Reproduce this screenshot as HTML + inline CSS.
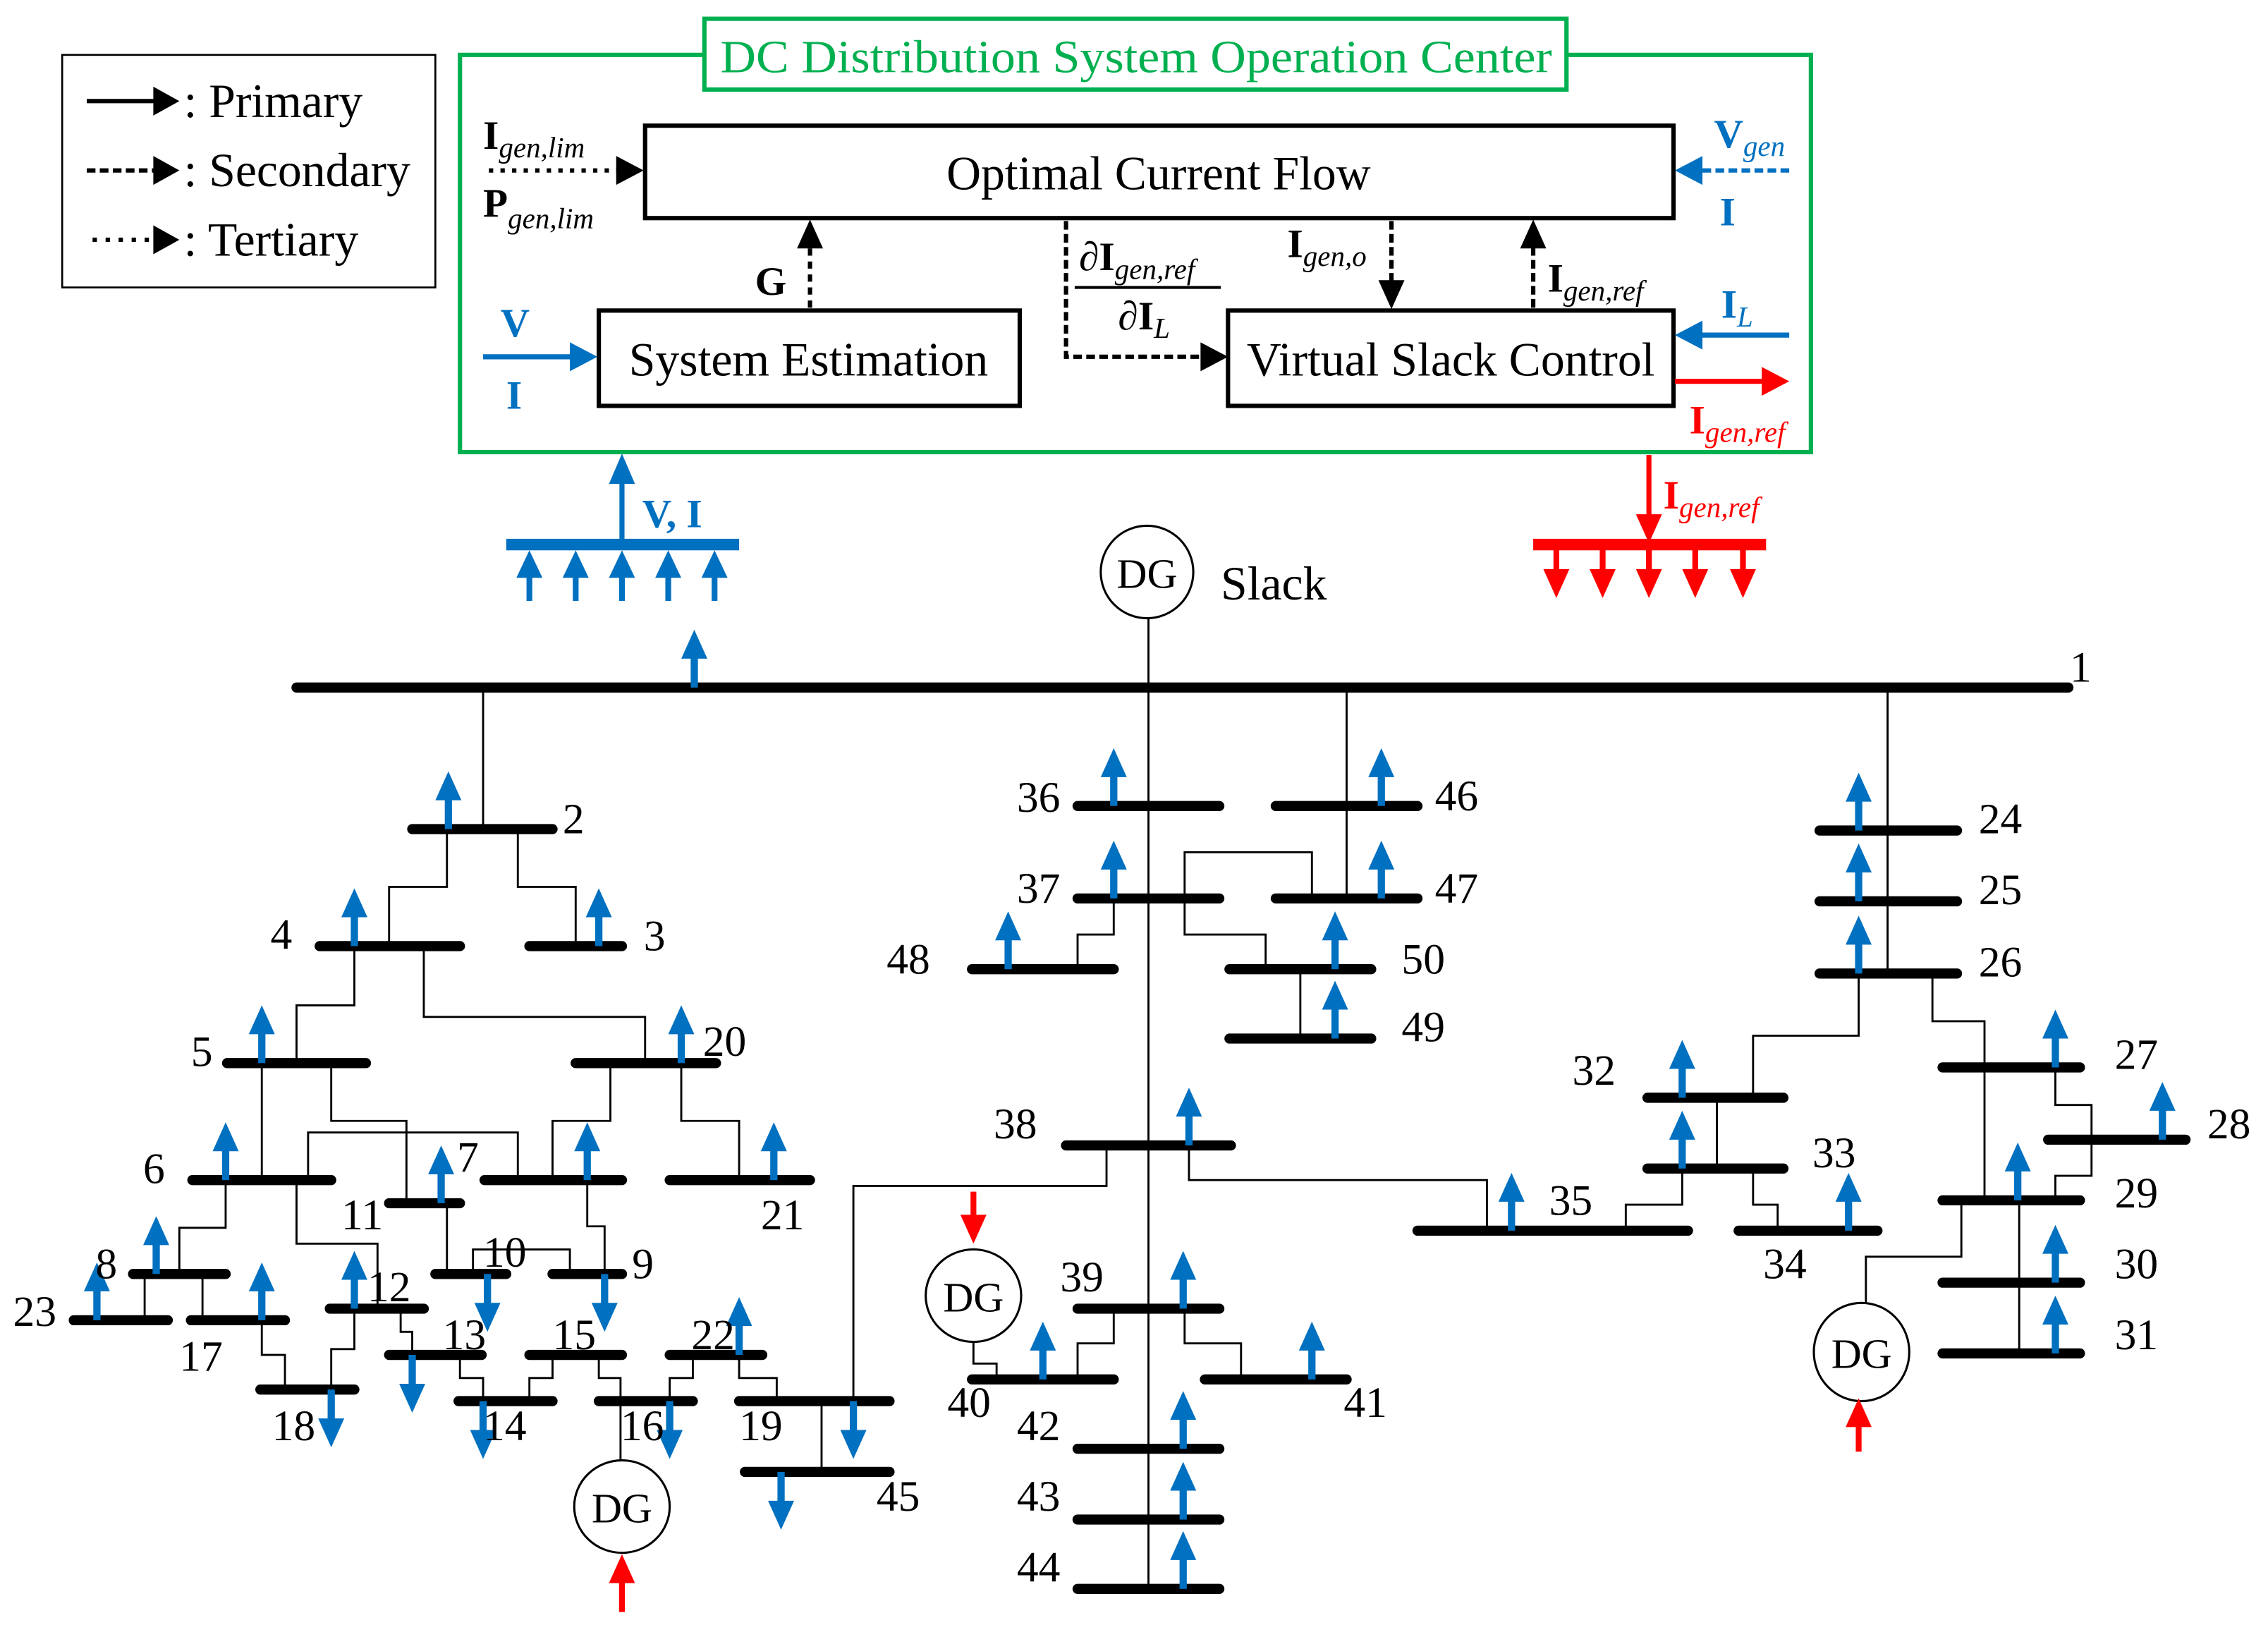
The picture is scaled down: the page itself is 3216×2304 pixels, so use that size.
<!DOCTYPE html>
<html><head><meta charset="utf-8"><style>
html,body{margin:0;padding:0;background:#fff}
svg{display:block}
text{font-family:"Liberation Serif",serif}
</style></head><body>
<svg width="3216" height="2304" viewBox="0 0 1568 1125" preserveAspectRatio="none" xmlns="http://www.w3.org/2000/svg">
<defs>
<g id="ua"><rect x="-2.5" y="-22" width="5" height="22" fill="#0070c0"/><polygon points="-9,-20 9,-20 0,-40" fill="#0070c0"/></g>
<g id="da"><rect x="-2.5" y="0" width="5" height="22" fill="#0070c0"/><polygon points="-9,20 9,20 0,40" fill="#0070c0"/></g>
</defs>
<rect width="1568" height="1125" fill="#fff"/>

<!-- Legend -->
<rect x="43" y="38" width="258" height="161" fill="none" stroke="#000" stroke-width="1.3"/>
<line x1="60" y1="70" x2="108" y2="70" stroke="#000" stroke-width="3"/>
<polygon points="106,60 124,70 106,80"/>
<line x1="60" y1="118" x2="108" y2="118" stroke="#000" stroke-width="3" stroke-dasharray="6,3"/>
<polygon points="106,108 124,118 106,128"/>
<line x1="64" y1="166" x2="108" y2="166" stroke="#000" stroke-width="3" stroke-dasharray="3,6"/>
<polygon points="106,156 124,166 106,176"/>
<text x="127" y="81" font-size="33">: Primary</text>
<text x="127" y="129" font-size="33">: Secondary</text>
<text x="127" y="177" font-size="33">: Tertiary</text>

<!-- Operation center -->
<rect x="318" y="38" width="934" height="275" fill="none" stroke="#00b050" stroke-width="3"/>
<rect x="487" y="13" width="596" height="49" fill="#fff" stroke="#00b050" stroke-width="3"/>
<text x="498" y="50" font-size="32" fill="#00b050" textLength="575" lengthAdjust="spacingAndGlyphs">DC Distribution System Operation Center</text>

<rect x="446" y="87" width="711" height="64" fill="#fff" stroke="#000" stroke-width="3"/>
<text x="801" y="131" font-size="33" text-anchor="middle">Optimal Current Flow</text>
<rect x="414" y="215" width="291" height="66" fill="#fff" stroke="#000" stroke-width="3"/>
<text x="559" y="260" font-size="33" text-anchor="middle">System Estimation</text>
<rect x="849" y="215" width="308" height="66" fill="#fff" stroke="#000" stroke-width="3"/>
<text x="1003" y="260" font-size="33" text-anchor="middle">Virtual Slack Control</text>

<!-- Igen,lim / Pgen,lim -->
<text x="334" y="103" font-size="28" font-weight="bold">I<tspan font-size="20" font-weight="normal" font-style="italic" dy="6">gen,lim</tspan></text>
<line x1="338" y1="118" x2="428" y2="118" stroke="#000" stroke-width="3" stroke-dasharray="3,5"/>
<polygon points="426,108 445,118 426,128"/>
<text x="334" y="150" font-size="28" font-weight="bold">P<tspan font-size="20" font-weight="normal" font-style="italic" dy="8">gen,lim</tspan></text>

<!-- Vgen / I right -->
<text x="1185" y="102" font-size="28" font-weight="bold" fill="#0070c0">V<tspan font-size="20" font-weight="normal" font-style="italic" dy="6">gen</tspan></text>
<line x1="1237" y1="118" x2="1175" y2="118" stroke="#0070c0" stroke-width="3" stroke-dasharray="6,3"/>
<polygon points="1177,108 1158,118 1177,128" fill="#0070c0"/>
<text x="1189" y="156" font-size="28" font-weight="bold" fill="#0070c0">I</text>

<!-- G -->
<line x1="560" y1="213" x2="560" y2="170" stroke="#000" stroke-width="3" stroke-dasharray="5,4"/>
<polygon points="551,172 560,152 569,172"/>
<text x="522" y="204" font-size="28" font-weight="bold">G</text>

<!-- dI/dIL -->
<polyline points="737,153 737,247 832,247" fill="none" stroke="#000" stroke-width="3" stroke-dasharray="6,3"/>
<polygon points="830,237 849,247 830,257"/>
<text x="746" y="187" font-size="28" font-weight="bold"><tspan font-weight="normal" font-style="italic">∂</tspan>I<tspan font-size="20" font-weight="normal" font-style="italic" dy="6">gen,ref</tspan></text>
<line x1="743" y1="199" x2="844" y2="199" stroke="#000" stroke-width="2"/>
<text x="773" y="228" font-size="28" font-weight="bold"><tspan font-weight="normal" font-style="italic">∂</tspan>I<tspan font-size="20" font-weight="normal" font-style="italic" dy="6">L</tspan></text>

<!-- Igen,o -->
<line x1="962" y1="153" x2="962" y2="196" stroke="#000" stroke-width="3" stroke-dasharray="6,3"/>
<polygon points="953,194 962,214 971,194"/>
<text x="890" y="178" font-size="28" font-weight="bold">I<tspan font-size="20" font-weight="normal" font-style="italic" dy="6">gen,o</tspan></text>

<!-- Igen,ref up -->
<line x1="1060" y1="213" x2="1060" y2="170" stroke="#000" stroke-width="3" stroke-dasharray="6,3"/>
<polygon points="1051,172 1060,152 1069,172"/>
<text x="1070" y="202" font-size="28" font-weight="bold">I<tspan font-size="20" font-weight="normal" font-style="italic" dy="6">gen,ref</tspan></text>

<!-- IL -->
<text x="1190" y="220" font-size="28" font-weight="bold" fill="#0070c0">I<tspan font-size="20" font-weight="normal" font-style="italic" dy="6">L</tspan></text>
<line x1="1237" y1="232" x2="1175" y2="232" stroke="#0070c0" stroke-width="3.5"/>
<polygon points="1177,222 1158,232 1177,242" fill="#0070c0"/>
<!-- red out -->
<line x1="1158" y1="264" x2="1220" y2="264" stroke="#ff0000" stroke-width="3.5"/>
<polygon points="1218,254 1237,264 1218,274" fill="#ff0000"/>
<text x="1168" y="300" font-size="28" font-weight="bold" fill="#ff0000">I<tspan font-size="20" font-weight="normal" font-style="italic" dy="6">gen,ref</tspan></text>

<!-- V I left -->
<text x="346" y="233" font-size="28" font-weight="bold" fill="#0070c0">V</text>
<line x1="334" y1="247" x2="396" y2="247" stroke="#0070c0" stroke-width="3.5"/>
<polygon points="394,237 413,247 394,257" fill="#0070c0"/>
<text x="350" y="283" font-size="28" font-weight="bold" fill="#0070c0">I</text>

<!-- Blue collection -->
<line x1="430" y1="377" x2="430" y2="332" stroke="#0070c0" stroke-width="3.5"/>
<polygon points="421,335 430,314 439,335" fill="#0070c0"/>
<text x="444" y="365" font-size="28" font-weight="bold" fill="#0070c0">V, I</text>
<rect x="350" y="373" width="161" height="8" fill="#0070c0"/>
<g fill="#0070c0">
<rect x="364" y="398" width="4" height="18"/><polygon points="357,400 375,400 366,381"/>
<rect x="396" y="398" width="4" height="18"/><polygon points="389,400 407,400 398,381"/>
<rect x="428" y="398" width="4" height="18"/><polygon points="421,400 439,400 430,381"/>
<rect x="460" y="398" width="4" height="18"/><polygon points="453,400 471,400 462,381"/>
<rect x="492" y="398" width="4" height="18"/><polygon points="485,400 503,400 494,381"/>
</g>

<!-- Red distribution -->
<line x1="1140" y1="315" x2="1140" y2="358" stroke="#ff0000" stroke-width="3.5"/>
<polygon points="1131,356 1140,376 1149,356" fill="#ff0000"/>
<text x="1150" y="352" font-size="28" font-weight="bold" fill="#ff0000">I<tspan font-size="20" font-weight="normal" font-style="italic" dy="6">gen,ref</tspan></text>
<rect x="1060" y="373" width="161" height="8" fill="#ff0000"/>
<g fill="#ff0000">
<rect x="1074" y="380" width="4" height="16"/><polygon points="1067,394 1085,394 1076,414"/>
<rect x="1106" y="380" width="4" height="16"/><polygon points="1099,394 1117,394 1108,414"/>
<rect x="1138" y="380" width="4" height="16"/><polygon points="1131,394 1149,394 1140,414"/>
<rect x="1170" y="380" width="4" height="16"/><polygon points="1163,394 1181,394 1172,414"/>
<rect x="1203" y="380" width="4" height="16"/><polygon points="1196,394 1214,394 1205,414"/>
</g>

<!-- Thin connecting lines -->
<g fill="none" stroke="#000" stroke-width="1.4">
<line x1="794" y1="428" x2="794" y2="1100"/>
<line x1="334" y1="476" x2="334" y2="574"/>
<line x1="931" y1="476" x2="931" y2="622"/>
<line x1="1305" y1="476" x2="1305" y2="674"/>
<polyline points="309,574 309,614 269,614 269,655"/>
<polyline points="358,574 358,614 398,614 398,655"/>
<polyline points="245,655 245,696 205,696 205,736"/>
<polyline points="293,655 293,704 446,704 446,736"/>
<polyline points="181,736 181,817"/>
<polyline points="229,736 229,776 281,776 281,833"/>
<polyline points="213,817 213,784 358,784 358,817"/>
<polyline points="422,736 422,776 382,776 382,817"/>
<polyline points="471,736 471,776 511,776 511,817"/>
<polyline points="156,817 156,850 124,850 124,882"/>
<polyline points="205,817 205,861 261,861 261,906"/>
<polyline points="309,833 309,882"/>
<polyline points="406,817 406,849 418,849 418,882"/>
<polyline points="327,882 327,865 394,865 394,882"/>
<polyline points="100,882 100,914"/>
<polyline points="140,882 140,914"/>
<polyline points="181,914 181,938 197,938 197,962"/>
<polyline points="245,906 245,934 229,934 229,962"/>
<polyline points="277,906 277,922 285,922 285,938"/>
<polyline points="318,938 318,954 334,954 334,970"/>
<polyline points="382,938 382,954 366,954 366,970"/>
<polyline points="414,938 414,954 429,954 429,970"/>
<polyline points="479,938 479,954 463,954 463,970"/>
<polyline points="511,938 511,954 537,954 537,970"/>
<polyline points="568,970 568,1019"/>
<polyline points="429,970 429,1011"/>
<polyline points="590,970 590,821 765,821 765,793"/>
<polyline points="822,793 822,817 1028,817 1028,852"/>
<polyline points="819,622 819,590 907,590 907,622"/>
<polyline points="770,622 770,647 745,647 745,671"/>
<polyline points="819,622 819,647 875,647 875,671"/>
<polyline points="899,671 899,719"/>
<polyline points="673,929 673,944 689,944 689,955"/>
<polyline points="770,906 770,930 745,930 745,955"/>
<polyline points="819,906 819,930 858,930 858,955"/>
<polyline points="1285,674 1285,717 1212,717 1212,760"/>
<polyline points="1187,760 1187,809"/>
<polyline points="1163,809 1163,834 1124,834 1124,852"/>
<polyline points="1212,809 1212,834 1229,834 1229,852"/>
<polyline points="1336,674 1336,707 1372,707 1372,831"/>
<polyline points="1421,739 1421,765 1446,765 1446,814 1421,814 1421,831"/>
<polyline points="1396,831 1396,937"/>
<polyline points="1356,831 1356,870 1290,870 1290,903"/>
</g>

<!-- Buses -->
<g stroke="#000" stroke-width="7" stroke-linecap="round">
<line x1="205" y1="476" x2="1430" y2="476"/>
<line x1="285" y1="574" x2="382" y2="574"/>
<line x1="221" y1="655" x2="318" y2="655"/>
<line x1="366" y1="655" x2="430" y2="655"/>
<line x1="157" y1="736" x2="253" y2="736"/>
<line x1="398" y1="736" x2="495" y2="736"/>
<line x1="133" y1="817" x2="229" y2="817"/>
<line x1="335" y1="817" x2="430" y2="817"/>
<line x1="463" y1="817" x2="560" y2="817"/>
<line x1="269" y1="833" x2="318" y2="833"/>
<line x1="92" y1="882" x2="156" y2="882"/>
<line x1="301" y1="882" x2="350" y2="882"/>
<line x1="382" y1="882" x2="430" y2="882"/>
<line x1="51" y1="914" x2="116" y2="914"/>
<line x1="132" y1="914" x2="197" y2="914"/>
<line x1="228" y1="906" x2="293" y2="906"/>
<line x1="269" y1="938" x2="333" y2="938"/>
<line x1="366" y1="938" x2="430" y2="938"/>
<line x1="463" y1="938" x2="527" y2="938"/>
<line x1="180" y1="962" x2="245" y2="962"/>
<line x1="317" y1="970" x2="382" y2="970"/>
<line x1="414" y1="970" x2="479" y2="970"/>
<line x1="511" y1="970" x2="615" y2="970"/>
<line x1="515" y1="1019" x2="615" y2="1019"/>
<line x1="745" y1="558" x2="843" y2="558"/>
<line x1="882" y1="558" x2="980" y2="558"/>
<line x1="745" y1="622" x2="843" y2="622"/>
<line x1="882" y1="622" x2="980" y2="622"/>
<line x1="672" y1="671" x2="770" y2="671"/>
<line x1="850" y1="671" x2="948" y2="671"/>
<line x1="850" y1="719" x2="948" y2="719"/>
<line x1="737" y1="793" x2="851" y2="793"/>
<line x1="745" y1="906" x2="843" y2="906"/>
<line x1="672" y1="955" x2="770" y2="955"/>
<line x1="833" y1="955" x2="931" y2="955"/>
<line x1="745" y1="1003" x2="843" y2="1003"/>
<line x1="745" y1="1052" x2="843" y2="1052"/>
<line x1="745" y1="1100" x2="843" y2="1100"/>
<line x1="1258" y1="575" x2="1353" y2="575"/>
<line x1="1258" y1="624" x2="1353" y2="624"/>
<line x1="1258" y1="674" x2="1353" y2="674"/>
<line x1="1139" y1="760" x2="1233" y2="760"/>
<line x1="1139" y1="809" x2="1233" y2="809"/>
<line x1="980" y1="852" x2="1167" y2="852"/>
<line x1="1202" y1="852" x2="1298" y2="852"/>
<line x1="1343" y1="739" x2="1438" y2="739"/>
<line x1="1416" y1="789" x2="1511" y2="789"/>
<line x1="1343" y1="831" x2="1438" y2="831"/>
<line x1="1343" y1="888" x2="1438" y2="888"/>
<line x1="1343" y1="937" x2="1438" y2="937"/>
</g>

<!-- Load arrows -->
<use href="#ua" x="480" y="476"/>
<use href="#ua" x="310" y="574"/>
<use href="#ua" x="245" y="655"/>
<use href="#ua" x="414" y="655"/>
<use href="#ua" x="181" y="736"/>
<use href="#ua" x="471" y="736"/>
<use href="#ua" x="156" y="817"/>
<use href="#ua" x="406" y="817"/>
<use href="#ua" x="535" y="817"/>
<use href="#ua" x="305" y="833"/>
<use href="#ua" x="108" y="882"/>
<use href="#ua" x="67" y="914"/>
<use href="#ua" x="181" y="914"/>
<use href="#ua" x="245" y="906"/>
<use href="#ua" x="511" y="938"/>
<use href="#da" x="337" y="882"/>
<use href="#da" x="418" y="882"/>
<use href="#da" x="229" y="962"/>
<use href="#da" x="285" y="938"/>
<use href="#da" x="334" y="970"/>
<use href="#da" x="463" y="970"/>
<use href="#da" x="590" y="970"/>
<use href="#da" x="540" y="1019"/>
<use href="#ua" x="770" y="558"/>
<use href="#ua" x="955" y="558"/>
<use href="#ua" x="770" y="622"/>
<use href="#ua" x="955" y="622"/>
<use href="#ua" x="697" y="671"/>
<use href="#ua" x="923" y="671"/>
<use href="#ua" x="923" y="719"/>
<use href="#ua" x="822" y="793"/>
<use href="#ua" x="818" y="906"/>
<use href="#ua" x="721" y="955"/>
<use href="#ua" x="907" y="955"/>
<use href="#ua" x="818" y="1003"/>
<use href="#ua" x="818" y="1052"/>
<use href="#ua" x="818" y="1100"/>
<use href="#ua" x="1285" y="575"/>
<use href="#ua" x="1285" y="624"/>
<use href="#ua" x="1285" y="674"/>
<use href="#ua" x="1163" y="760"/>
<use href="#ua" x="1163" y="809"/>
<use href="#ua" x="1045" y="852"/>
<use href="#ua" x="1278" y="852"/>
<use href="#ua" x="1421" y="739"/>
<use href="#ua" x="1495" y="789"/>
<use href="#ua" x="1395" y="831"/>
<use href="#ua" x="1421" y="888"/>
<use href="#ua" x="1421" y="937"/>

<!-- DGs -->
<g fill="#fff" stroke="#000" stroke-width="1.5">
<ellipse cx="793" cy="396" rx="32" ry="32"/>
<ellipse cx="430" cy="1043" rx="33" ry="32"/>
<ellipse cx="673" cy="897" rx="33" ry="32"/>
<ellipse cx="1287" cy="936" rx="33" ry="34"/>
</g>
<g font-size="29" text-anchor="middle">
<text x="793" y="407">DG</text>
<text x="430" y="1054">DG</text>
<text x="673" y="908">DG</text>
<text x="1287" y="947">DG</text>
</g>
<text x="844" y="415" font-size="33">Slack</text>
<g fill="#ff0000">
<rect x="428" y="1094" width="4" height="22"/><polygon points="421,1096 439,1096 430,1076"/>
<rect x="1283" y="985" width="4" height="20"/><polygon points="1276,988 1294,988 1285,968"/>
<rect x="671" y="825" width="4" height="18"/><polygon points="664,841 682,841 673,861"/>
</g>

<!-- Bus labels -->
<g font-size="30">
<text x="1431" y="472">1</text>
<text x="389" y="577">2</text>
<text x="445" y="658">3</text>
<text x="187" y="657">4</text>
<text x="132" y="738">5</text>
<text x="99" y="819">6</text>
<text x="316" y="811">7</text>
<text x="66" y="885">8</text>
<text x="437" y="885">9</text>
<text x="334" y="877">10</text>
<text x="236" y="851">11</text>
<text x="254" y="901">12</text>
<text x="306" y="934">13</text>
<text x="334" y="997">14</text>
<text x="382" y="934">15</text>
<text x="429" y="997">16</text>
<text x="124" y="949">17</text>
<text x="188" y="997">18</text>
<text x="511" y="997">19</text>
<text x="486" y="731">20</text>
<text x="526" y="851">21</text>
<text x="478" y="934">22</text>
<text x="9" y="918">23</text>
<text x="1368" y="577">24</text>
<text x="1368" y="626">25</text>
<text x="1368" y="676">26</text>
<text x="1462" y="740">27</text>
<text x="1526" y="788">28</text>
<text x="1462" y="836">29</text>
<text x="1462" y="885">30</text>
<text x="1462" y="934">31</text>
<text x="1087" y="751">32</text>
<text x="1253" y="808">33</text>
<text x="1219" y="885">34</text>
<text x="1071" y="841">35</text>
<text x="703" y="562">36</text>
<text x="703" y="625">37</text>
<text x="687" y="788">38</text>
<text x="733" y="894">39</text>
<text x="655" y="981">40</text>
<text x="929" y="981">41</text>
<text x="703" y="997">42</text>
<text x="703" y="1046">43</text>
<text x="703" y="1095">44</text>
<text x="606" y="1046">45</text>
<text x="992" y="561">46</text>
<text x="992" y="625">47</text>
<text x="613" y="674">48</text>
<text x="969" y="721">49</text>
<text x="969" y="674">50</text>
</g>
</svg>
</body></html>
